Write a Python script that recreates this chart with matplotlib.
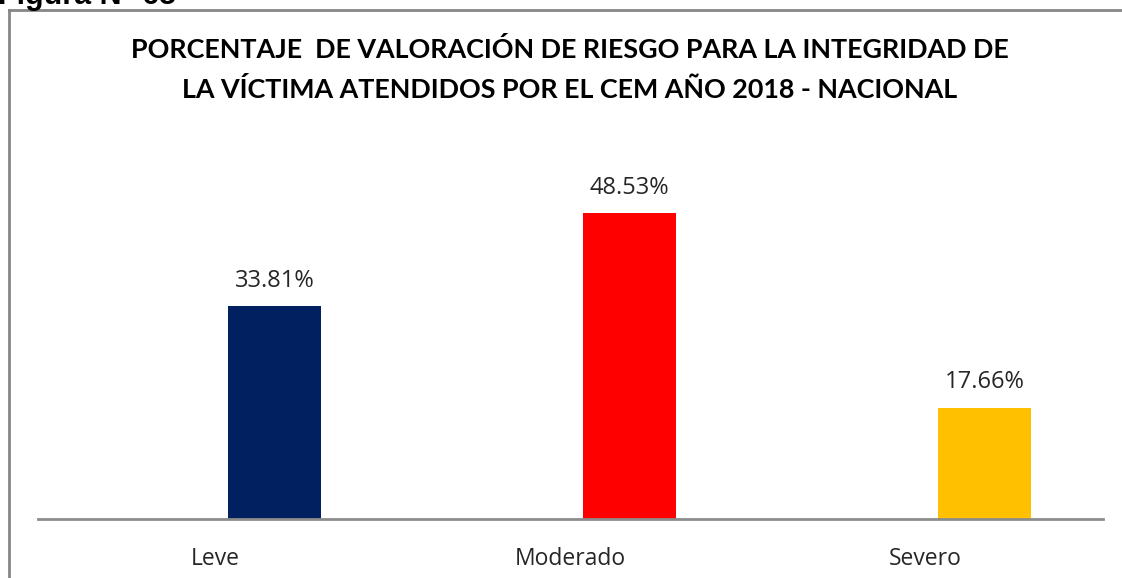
import matplotlib.pyplot as plt
from matplotlib.lines import Line2D

categories = ["Leve", "Moderado", "Severo"]
values = [33.81, 48.53, 17.66]
colors = ["#002060", "#FF0000", "#FFC000"]

W, H = 1122, 578
fig = plt.figure(figsize=(W / 100, H / 100), dpi=100)

# outer frame of the chart area (grey)
fig.add_artist(Line2D([9 / W, 9 / W], [0, 1 - 10 / H], color="#868686", lw=2))
fig.add_artist(Line2D([9 / W, 1], [1 - 10 / H, 1 - 10 / H], color="#868686", lw=2))

# clipped caption above the frame
fig.text(-0.002, 1 - 4 / H, "Figura N° 65", fontsize=22, fontweight="bold",
         family="Liberation Sans", ha="left", va="baseline")

ax = fig.add_axes([38 / W, 59 / H, (1103 - 38) / W, (519 - 140.7) / H])
pos = list(range(len(categories)))
shift = 0.166
bars = ax.bar([p + shift for p in pos], values, width=0.26, color=colors)
ax.set_xlim(-0.5, 2.5)
ax.set_ylim(0, 60)

for b, v in zip(bars, values):
    ax.text(b.get_x() + b.get_width() / 2, v + 2.1, f"{v:.2f}%",
            ha="center", va="bottom", fontsize=17, family="Open Sans", color="#262626")

ax.set_xticks(pos)
ax.set_xticklabels(categories, fontsize=16.5, family="Open Sans", color="#262626")
ax.tick_params(axis="x", length=0, pad=20)
ax.set_yticks([])
for s in ["top", "right", "left"]:
    ax.spines[s].set_visible(False)
ax.spines["bottom"].set_color("#8c8c8c")
ax.spines["bottom"].set_linewidth(2)

fig.text(570 / W, 1 - 50 / H, "PORCENTAJE  DE VALORACIÓN DE RIESGO PARA LA INTEGRIDAD DE",
         ha="center", va="center", fontsize=19.4, fontweight="bold", family="Lato")
fig.text(570 / W, 1 - 89 / H, "LA VÍCTIMA ATENDIDOS POR EL CEM AÑO 2018 - NACIONAL",
         ha="center", va="center", fontsize=19.4, fontweight="bold", family="Lato")

fig.savefig("out.png", dpi=100)
